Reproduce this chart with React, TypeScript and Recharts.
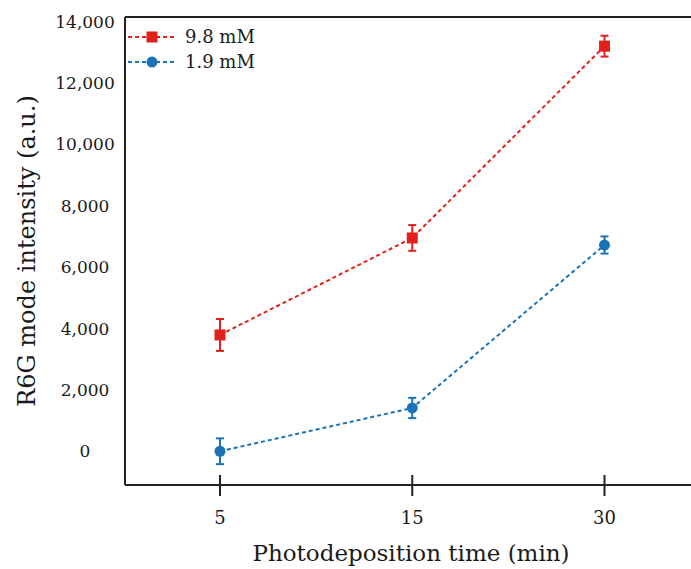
import { LineChart, Line, XAxis, YAxis, ErrorBar, ReferenceLine } from 'recharts'

const times = ['5', '15', '30']
const high = [3790, 6950, 13200]
const highErr = [520, 420, 340]
const low = [0, 1410, 6720]
const lowErr = [420, 330, 280]
const yTicks = [0, 2000, 4000, 6000, 8000, 10000, 12000, 14000]
const yDomain = [-1100, 14150]

const RED = '#e3211c'
const BLUE = '#1a73b9'
const FONT = '"DejaVu Serif", serif'

const series = [
  { key: 'high', name: '9.8 mM', color: RED, shape: 'square' },
  { key: 'low', name: '1.9 mM', color: BLUE, shape: 'circle' },
]

const data = times.map((t, i) => ({
  time: t,
  high: high[i],
  highErr: highErr[i],
  low: low[i],
  lowErr: lowErr[i],
}))

const fmt = (v: number) => v.toLocaleString('en-US')

function Marker({ cx, cy, shape, color }: any) {
  if (cx == null || cy == null) return null
  if (shape === 'square') {
    return <rect x={cx - 5.5} y={cy - 5.5} width={11} height={11} fill={color} />
  }
  return <circle cx={cx} cy={cy} r={5.5} fill={color} />
}

function YTick({ x, y, payload }: any) {
  return (
    <text x={x - 38} y={y} dy="0.36em" textAnchor="middle" fontFamily={FONT} fontSize={17} fill="#1a1a1a">
      {fmt(payload.value)}
    </text>
  )
}

function XTick({ x, y, payload }: any) {
  return (
    <g>
      <line x1={x} x2={x} y1={y - 12} y2={y + 9} stroke="#222" strokeWidth={2} />
      <text x={x} y={y + 37} textAnchor="middle" fontFamily={FONT} fontSize={18} fill="#1a1a1a">
        {payload.value}
      </text>
    </g>
  )
}

function Legend() {
  return (
    <div style={{ position: 'absolute', left: 127, top: 24 }}>
      {series.map((s) => (
        <div key={s.key} style={{ display: 'flex', alignItems: 'center', height: 25 }}>
          <svg width={50} height={14}>
            <line x1={1} x2={48} y1={7} y2={7} stroke={s.color} strokeWidth={2} strokeDasharray="4 3" />
            <Marker cx={25} cy={7} shape={s.shape} color={s.color} />
          </svg>
          <span style={{ fontFamily: FONT, fontSize: 18, color: '#1a1a1a', marginLeft: 8 }}>{s.name}</span>
        </div>
      ))}
    </div>
  )
}

export default function App() {
  return (
    <div style={{ position: 'absolute', left: 0, top: 0, width: 691, height: 569, overflow: 'hidden', background: '#fff' }}>
      <LineChart width={720} height={569} data={data} margin={{ top: 17, right: 17.5, bottom: 0, left: 0 }}>
        <XAxis
          dataKey="time"
          height={84}
          padding={{ left: 95, right: 98 }}
          tickSize={0}
          tickLine={false}
          axisLine={{ stroke: '#222', strokeWidth: 2 }}
          tick={<XTick />}
          interval={0}
          label={({ viewBox }: any) => (
            <text
              x={viewBox.x + 286}
              y={viewBox.y + 76}
              textAnchor="middle"
              fontFamily={FONT}
              fontSize={23}
              fill="#1a1a1a"
            >
              Photodeposition time (min)
            </text>
          )}
        />
        <YAxis
          type="number"
          width={125}
          domain={yDomain}
          ticks={yTicks}
          tickSize={0}
          tickLine={false}
          axisLine={{ stroke: '#222', strokeWidth: 2 }}
          tick={<YTick />}
          interval={0}
          label={({ viewBox }: any) => (
            <text
              x={27}
              y={viewBox.y + viewBox.height / 2}
              transform={`rotate(-90, 27, ${viewBox.y + viewBox.height / 2})`}
              textAnchor="middle"
              dominantBaseline="central"
              fontFamily={FONT}
              fontSize={24}
              fill="#1a1a1a"
            >
              R6G mode intensity (a.u.)
            </text>
          )}
        />
        {/* frame top */}
        <ReferenceLine y={yDomain[1]} stroke="#222" strokeWidth={2} />
        {series.map((s) => (
          <Line
            key={s.key}
            dataKey={s.key}
            name={s.name}
            stroke={s.color}
            strokeWidth={2}
            strokeDasharray="4 3"
            isAnimationActive={false}
            dot={(p: any) => <Marker key={`${s.key}-${p.index}`} cx={p.cx} cy={p.cy} shape={s.shape} color={s.color} />}
            activeDot={false}
          >
            <ErrorBar dataKey={`${s.key}Err`} width={4} stroke={s.color} strokeWidth={2} direction="y" />
          </Line>
        ))}
      </LineChart>
      <Legend />
    </div>
  )
}
